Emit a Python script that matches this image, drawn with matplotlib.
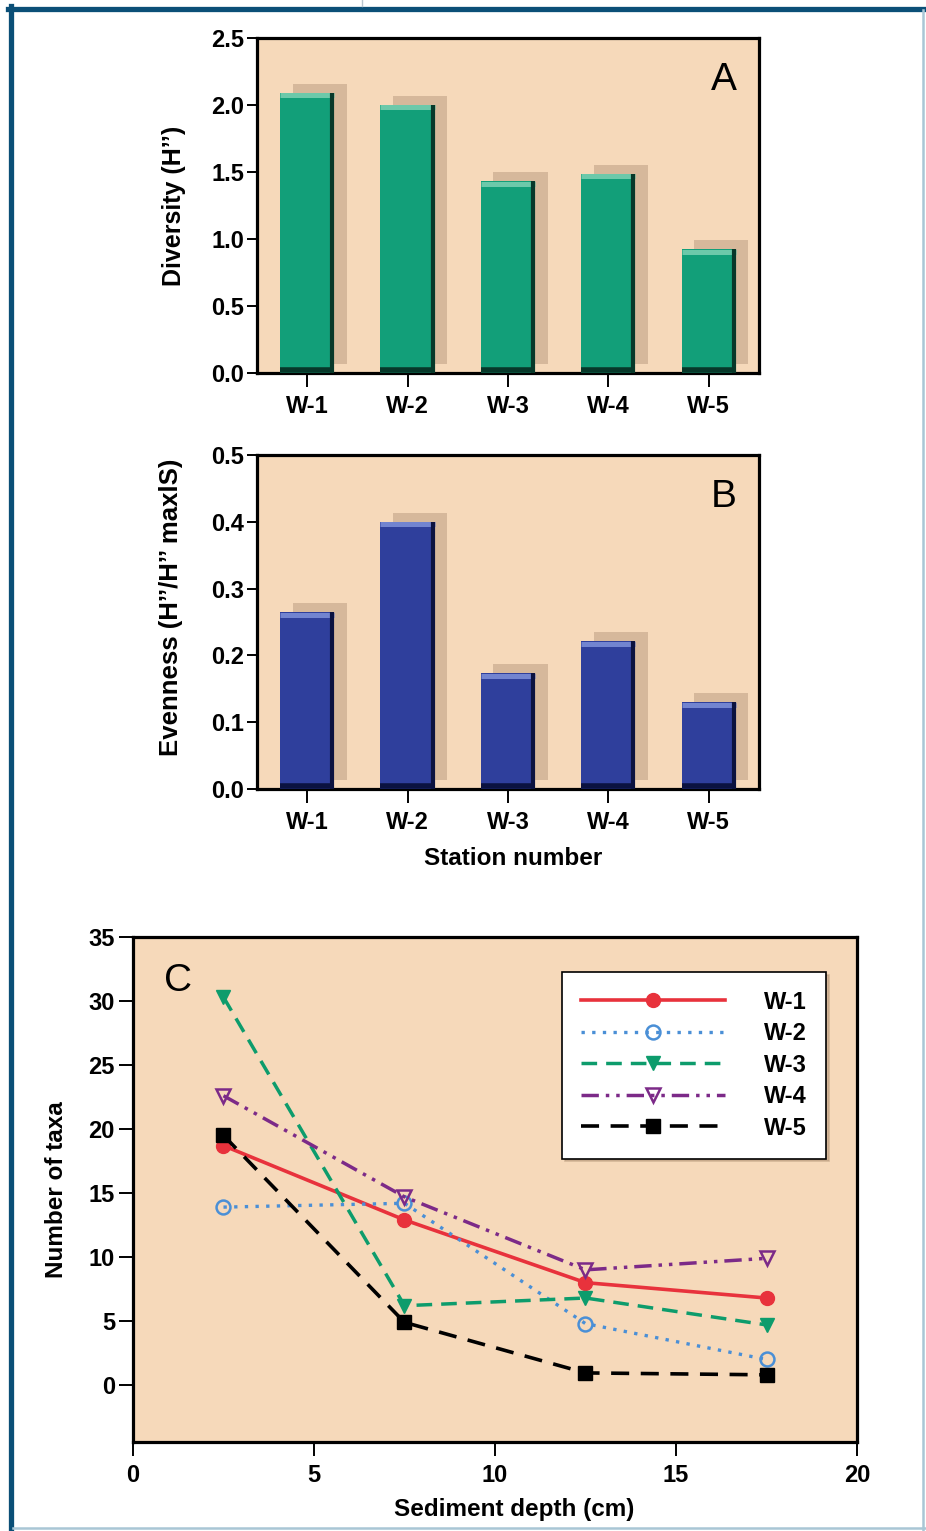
"""Benthic diversity, evenness and taxa-by-depth panels (A, B, C)."""

import matplotlib

matplotlib.use("Agg")

import matplotlib.pyplot as plt
import numpy as np
from matplotlib import patheffects
from matplotlib.lines import Line2D
from matplotlib.transforms import offset_copy

STATIONS = ["W-1", "W-2", "W-3", "W-4", "W-5"]
DIVERSITY = [2.09, 2.00, 1.43, 1.485, 0.925]
EVENNESS = [0.265, 0.40, 0.173, 0.221, 0.13]

DEPTHS = [2.5, 7.5, 12.5, 17.5]
TAXA_W1 = [18.7, 12.9, 8.0, 6.8]
TAXA_W2 = [13.9, 14.2, 4.8, 2.0]
TAXA_W3 = [30.3, 6.2, 6.8, 4.7]
TAXA_W4 = [22.6, 14.7, 9.0, 9.9]
TAXA_W5 = [19.5, 4.9, 0.95, 0.8]

PEACH = "#f6d9ba"
FONT = ["Liberation Sans", "DejaVu Sans"]

plt.rcParams["font.family"] = FONT
plt.rcParams["font.weight"] = "bold"


def style_axes(ax, tick_size):
    ax.set_facecolor(PEACH)
    for spine in ax.spines.values():
        spine.set_linewidth(2.3)
    ax.tick_params(direction="out", length=7, width=1.4, labelsize=tick_size, pad=2)
    for lab in ax.get_xticklabels() + ax.get_yticklabels():
        lab.set_fontweight("bold")


def draw_bars(ax, values, color, light, dark):
    x = np.arange(1, len(values) + 1)
    width = 0.54
    bars = ax.bar(x, values, width=width, color=color, zorder=3, linewidth=0)
    for bar in bars:
        bar.set_path_effects([
            patheffects.SimplePatchShadow(offset=(9, 6.5), shadow_rgbFace="#825f48", alpha=0.27),
            patheffects.Normal(),
        ])
    vals = np.asarray(values)
    # bevel: light top, dark right edge and dark foot
    ax.hlines(vals, x - width / 2, x + width / 2, colors=light, linewidth=3.6, zorder=4,
              transform=offset_copy(ax.transData, y=-2.5, units="dots"))
    ax.vlines(x + width / 2, 0, vals, colors=dark, linewidth=3.0, zorder=5,
              transform=offset_copy(ax.transData, x=-2.0, units="dots"))
    ax.hlines(np.zeros_like(vals), x - width / 2, x + width / 2, colors=dark, linewidth=4.0,
              zorder=5, transform=offset_copy(ax.transData, y=2.8, units="dots"))


fig = plt.figure(figsize=(9.26, 15.31), dpi=100)
fig.patch.set_facecolor("white")

# ---- panel A
ax_a = fig.add_axes([0.2775, 0.7564, 0.5421, 0.2188])
draw_bars(ax_a, DIVERSITY, "#129f79", "#6cc9aa", "#07382a")
ax_a.set_xlim(0.5, 5.5)
ax_a.set_ylim(0, 2.5)
ax_a.set_yticks([0.0, 0.5, 1.0, 1.5, 2.0, 2.5])
ax_a.set_yticklabels(["0.0", "0.5", "1.0", "1.5", "2.0", "2.5"])
ax_a.set_xticks(range(1, 6))
ax_a.set_xticklabels(STATIONS)
style_axes(ax_a, 17)
ax_a.tick_params(axis="x", length=10, pad=6)
ax_a.set_ylabel("Diversity (H\u2019\u2019)", fontsize=18, fontweight="bold")
ax_a.yaxis.set_label_coords(-0.141, 0.5)
ax_a.text(0.93, 0.875, "A", transform=ax_a.transAxes, fontsize=28, fontweight="normal",
          ha="center", va="center")

# ---- panel B
ax_b = fig.add_axes([0.2775, 0.4846, 0.5421, 0.2182])
draw_bars(ax_b, EVENNESS, "#2f3f9c", "#7284d0", "#0b1240")
ax_b.set_xlim(0.5, 5.5)
ax_b.set_ylim(0, 0.5)
ax_b.set_yticks([0.0, 0.1, 0.2, 0.3, 0.4, 0.5])
ax_b.set_yticklabels(["0.0", "0.1", "0.2", "0.3", "0.4", "0.5"])
ax_b.set_xticks(range(1, 6))
ax_b.set_xticklabels(STATIONS)
style_axes(ax_b, 17)
ax_b.tick_params(axis="x", length=10, pad=6)
ax_b.set_ylabel("Evenness (H\u2019\u2019/H\u2019\u2019 maxlS)", fontsize=18.5, fontweight="bold")
ax_b.yaxis.set_label_coords(-0.147, 0.545)
ax_b.set_xlabel("Station number", fontsize=17.5, fontweight="bold")
ax_b.xaxis.set_label_coords(0.51, -0.172)
ax_b.text(0.93, 0.874, "B", transform=ax_b.transAxes, fontsize=28, fontweight="normal",
          ha="center", va="center")

# ---- panel C
ax_c = fig.add_axes([0.1436, 0.0581, 0.7819, 0.3299])
series = [
    ("W-1", TAXA_W1, dict(color="#e8323c", linestyle="-", linewidth=2.6, marker="o",
                          markersize=10, markerfacecolor="#e8323c")),
    ("W-2", TAXA_W2, dict(color="#4a8fd6", linestyle=(0, (1, 2.2)), linewidth=2.4, marker="o",
                          markersize=10, markerfacecolor="none", markeredgewidth=1.8)),
    ("W-3", TAXA_W3, dict(color="#0d9c6c", linestyle=(0, (4.5, 2.6)), linewidth=2.5, marker="v",
                          markersize=10, markerfacecolor="#0d9c6c")),
    ("W-4", TAXA_W4, dict(color="#7c2a88", linestyle=(0, (5, 2, 1, 2, 1, 2)), linewidth=2.5,
                          marker="v", markersize=10, markerfacecolor="none",
                          markeredgewidth=1.8)),
    ("W-5", TAXA_W5, dict(color="black", linestyle=(0, (5, 3.2)), linewidth=2.6, marker="s",
                          markersize=10, markerfacecolor="black")),
]
for name, vals, kw in series:
    ax_c.plot(DEPTHS, vals, label=name, zorder=3, **kw)

ax_c.set_xlim(0, 20)
ax_c.set_ylim(-4.45, 35)
ax_c.set_xticks([0, 5, 10, 15, 20])
ax_c.set_yticks([0, 5, 10, 15, 20, 25, 30, 35])
style_axes(ax_c, 17)
ax_c.tick_params(axis="x", length=10, pad=6)
ax_c.tick_params(axis="y", length=10, pad=3)
ax_c.set_ylabel("Number of taxa", fontsize=17.5, fontweight="bold")
ax_c.yaxis.set_label_coords(-0.09, 0.5)
ax_c.set_xlabel("Sediment depth (cm)", fontsize=17.5, fontweight="bold")
ax_c.xaxis.set_label_coords(0.526, -0.111)
ax_c.text(0.062, 0.913, "C", transform=ax_c.transAxes, fontsize=28, fontweight="normal",
          ha="center", va="center")

leg = ax_c.legend(loc="upper right", bbox_to_anchor=(0.957, 0.931), borderaxespad=0,
                  handlelength=6.1, handletextpad=1.65, numpoints=1, labelspacing=0.36,
                  borderpad=0.8, frameon=True, fancybox=False,
                  shadow={"color": "#b89a7c", "alpha": 0.55},
                  prop={"family": FONT, "weight": "bold", "size": 17})
leg.get_frame().set_edgecolor("black")
leg.get_frame().set_linewidth(1.2)
leg.get_frame().set_facecolor("white")

# ---- page frame
fig.add_artist(Line2D([8 / 926, 1], [1 - 8.5 / 1531] * 2, transform=fig.transFigure,
                      color="#0b4f77", linewidth=3.8))
fig.add_artist(Line2D([11 / 926] * 2, [0, 1 - 6 / 1531], transform=fig.transFigure,
                      color="#0b4f77", linewidth=3.8))
fig.add_artist(Line2D([922.5 / 926] * 2, [0, 1 - 10 / 1531], transform=fig.transFigure,
                      color="#a9c6d5", linewidth=1.8))
fig.add_artist(Line2D([13 / 926, 1], [1 - 1528 / 1531] * 2, transform=fig.transFigure,
                      color="#a9c6d5", linewidth=1.8))
fig.add_artist(Line2D([362 / 926] * 2, [1 - 6 / 1531, 1], transform=fig.transFigure,
                      color="#b9c6cf", linewidth=1.0))

fig.savefig("out.png", dpi=100, facecolor=fig.get_facecolor())
